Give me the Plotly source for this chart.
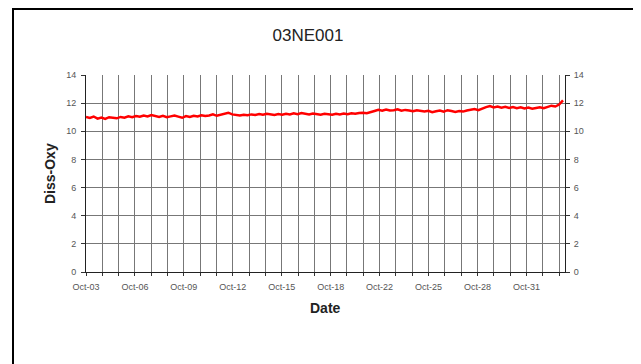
import plotly.graph_objects as go
import pandas as pd

title_text = "03NE001"
x_title = "Date"
y_title = "Diss-Oxy"
start_time = "2007-10-03 00:00"
step_hours = 6

# Dissolved oxygen readings (4 per day)
diss_oxy = [
    11.02, 10.95, 11.05, 10.90,
    10.98, 10.88, 11.00, 10.95,
    10.92, 11.02, 10.97, 11.06,
    11.00, 11.08, 11.03, 11.12,
    11.05, 11.15, 11.08, 11.02,
    11.10, 11.00, 11.06, 11.12,
    11.04, 10.96, 11.08, 11.02,
    11.10, 11.05, 11.14, 11.08,
    11.12, 11.20, 11.10, 11.18,
    11.25, 11.32, 11.20, 11.16,
    11.12, 11.18, 11.14, 11.20,
    11.16, 11.22, 11.18, 11.24,
    11.20, 11.16, 11.22, 11.18,
    11.24, 11.20, 11.28, 11.22,
    11.30, 11.24, 11.20, 11.26,
    11.22, 11.18, 11.24, 11.20,
    11.18, 11.24, 11.20, 11.26,
    11.22, 11.28, 11.24, 11.30,
    11.32, 11.28, 11.38, 11.44,
    11.52, 11.46, 11.55, 11.48,
    11.50, 11.56, 11.46, 11.52,
    11.48, 11.42, 11.50, 11.44,
    11.40, 11.46, 11.36, 11.42,
    11.48, 11.40, 11.50, 11.44,
    11.38, 11.44, 11.40, 11.48,
    11.52, 11.58, 11.50, 11.64,
    11.72, 11.80, 11.70, 11.76,
    11.68, 11.74, 11.66, 11.72,
    11.64, 11.70, 11.62, 11.68,
    11.60, 11.66, 11.70, 11.64,
    11.72, 11.82, 11.76, 11.90,
    12.20,
]

times = pd.date_range(start_time, periods=len(diss_oxy), freq=f"{step_hours}h")

DAY_MS = 86400000
grid_step = 1.06 * DAY_MS
x_start = pd.Timestamp(start_time)
x_end = x_start + pd.Timedelta(days=31.13)

# page has an 8px body margin; work in page pixels and convert
OFF = 8
W, H = 641 - OFF, 364 - OFF
PL, PR, PT, PB = 86, 565, 75, 272          # plot area in page pixels
L, T = PL - OFF, PT - OFF
R = W - (PR - OFF)
B = H - (PB - OFF)
pw, ph = PR - PL, PB - PT

def px_x(p):
    return (p - PL) / pw

def px_y(p):
    return (PB - p) / ph

grid_col = "#777777"
tick_font = dict(family="Liberation Sans, Arial", size=9, color="#555555")

fig = go.Figure()
fig.add_trace(go.Scatter(x=times, y=diss_oxy, mode="lines",
                         line=dict(color="#ff0000", width=2.5), showlegend=False))
fig.add_trace(go.Scatter(x=times, y=diss_oxy, mode="lines", yaxis="y2",
                         line=dict(color="rgba(0,0,0,0)", width=0),
                         hoverinfo="skip", showlegend=False))

fig.update_layout(
    width=W, height=H,
    margin=dict(l=L, r=R, t=T, b=B, pad=0),
    paper_bgcolor="white", plot_bgcolor="white",
    xaxis=dict(
        type="date", range=[x_start, x_end],
        tick0=start_time, dtick=3 * grid_step, tickformat="%b-%d",
        showgrid=True, gridcolor=grid_col, gridwidth=1,
        ticks="outside", ticklen=3, tickcolor="#333333", ticklabelstandoff=3,
        minor=dict(dtick=grid_step, tick0=start_time, showgrid=True,
                   gridcolor=grid_col, gridwidth=1, ticks="outside",
                   ticklen=3, tickcolor="#333333"),
        showline=True, linecolor="#222222", linewidth=1,
        tickfont=tick_font, zeroline=False,
    ),
    yaxis=dict(
        range=[0, 14], dtick=2, showgrid=True, gridcolor=grid_col, gridwidth=1,
        ticks="outside", ticklen=4, tickcolor="#333333", ticklabelstandoff=3,
        showline=True, linecolor="#222222", linewidth=1,
        tickfont=tick_font, zeroline=False,
    ),
    yaxis2=dict(
        range=[0, 14], dtick=2, overlaying="y", side="right", showgrid=False,
        ticks="outside", ticklen=4, tickcolor="#333333", ticklabelstandoff=2,
        showline=True, linecolor="#222222", linewidth=1,
        tickfont=tick_font, zeroline=False,
    ),
    title=dict(text=title_text, x=(308 - OFF) / W, y=1 - (35 - OFF) / H,
               xanchor="center", yanchor="middle", xref="container", yref="container",
               font=dict(family="Liberation Sans, Arial", size=17, color="#222222")),
    annotations=[
        dict(text=f"<b>{x_title}</b>", x=px_x(325), y=px_y(308), xref="paper", yref="paper",
             showarrow=False, xanchor="center", yanchor="middle",
             font=dict(family="Liberation Sans, Arial", size=14, color="#222222")),
        dict(text=f"<b>{y_title}</b>", x=px_x(50), y=px_y(174), xref="paper", yref="paper",
             showarrow=False, xanchor="center", yanchor="middle", textangle=-90,
             font=dict(family="Liberation Sans, Arial", size=14, color="#222222")),
    ],
    shapes=[
        dict(type="rect", xref="paper", yref="paper",
             x0=px_x(13), x1=px_x(636), y0=px_y(380), y1=px_y(9),
             line=dict(color="black", width=2), fillcolor="rgba(0,0,0,0)", layer="below"),
    ],
)

fig.write_html("out.html")
